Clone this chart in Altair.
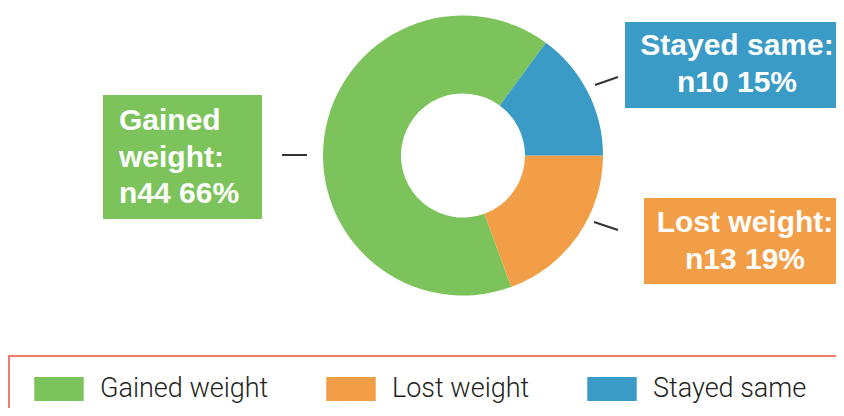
import math
import altair as alt
import pandas as pd

# ---- data ----
categories = ["Gained weight", "Lost weight", "Stayed same"]
counts = [44, 13, 10]
percents = [66, 19, 15]
stack_order = [2, 1, 0]          # stacking starts with "Stayed same"
colors = ["#7DC35B", "#F29E47", "#399BC6"]

df = pd.DataFrame({"category": categories, "count": counts,
                   "pct": percents, "ord": stack_order})

start = math.radians(36.3)
color_scale = alt.Scale(domain=categories, range=colors)

base = alt.Chart(df)

donut = base.mark_arc(outerRadius=140, innerRadius=62, strokeWidth=0).encode(
    theta=alt.Theta("count:Q", stack=True,
                    scale=alt.Scale(range=[start, start + 2 * math.pi])),
    color=alt.Color("category:N", scale=color_scale, legend=alt.Legend(
        orient="none", legendX=26, legendY=356, direction="horizontal",
        title=None, padding=0,
        symbolType="M-1,-0.485L1,-0.485L1,0.485L-1,0.485Z", symbolSize=2450,
        symbolStrokeWidth=0, symbolOpacity=1,
        labelFont="Roboto", labelFontSize=27, labelFontWeight=300,
        labelColor="#231F20", labelOffset=16, columnPadding=57, labelLimit=400)),
    order=alt.Order("ord:Q"),
    x=alt.value(455), y=alt.value(147.5),
)


def one(cat):
    return base.transform_filter(alt.datum.category == cat)


def label_lines(i, split_name):
    name = categories[i]
    last = f"n{counts[i]} {percents[i]}%"
    if split_name:
        parts = name.split(" ")
        return parts[:-1] + [parts[-1] + ":", last]
    return [name + ":", last]


boxes = [
    # category index, x, x2, y, y2
    (0, 95, 254, 87, 211),
    (2, 617, 900, 14, 100),
    (1, 636, 900, 190, 276),
]
layers = [donut]
for i, x1, x2, y1, y2 in boxes:
    layers.append(one(categories[i]).mark_rect(color=colors[i]).encode(
        x=alt.value(x1), x2=alt.value(x2), y=alt.value(y1), y2=alt.value(y2)))

text_style = dict(font="Liberation Sans", fontWeight="bold", fontSize=30,
                  color="white", baseline="alphabetic", lineHeight=36.5)
layers.append(one(categories[0]).mark_text(align="left", **text_style).encode(
    x=alt.value(111), y=alt.value(122), text=alt.value(label_lines(0, True))))
layers.append(one(categories[2]).mark_text(align="center", **text_style).encode(
    x=alt.value(729), y=alt.value(47), text=alt.value(label_lines(2, False))))
layers.append(one(categories[1]).mark_text(align="center", **text_style).encode(
    x=alt.value(737), y=alt.value(224), text=alt.value(label_lines(1, False))))

connectors = [(274, 299, 147, 147), (587, 610, 77, 69), (586, 610, 214, 222)]
for x1, x2, y1, y2 in connectors:
    layers.append(one(categories[0]).mark_rule(color="#333333", strokeWidth=2).encode(
        x=alt.value(x1), x2=alt.value(x2), y=alt.value(y1), y2=alt.value(y2)))

layers.append(one(categories[0]).mark_rect(filled=False, stroke="#F07C6C",
                                           strokeWidth=2).encode(
    x=alt.value(1), x2=alt.value(900), y=alt.value(348), y2=alt.value(500)))

chart = alt.layer(*layers).properties(
    width=828, height=400,
    autosize=alt.AutoSizeParams(type="none"), padding=0,
).configure_view(stroke=None)

chart.save("out.html", embed_options={"renderer": "svg", "actions": False})
